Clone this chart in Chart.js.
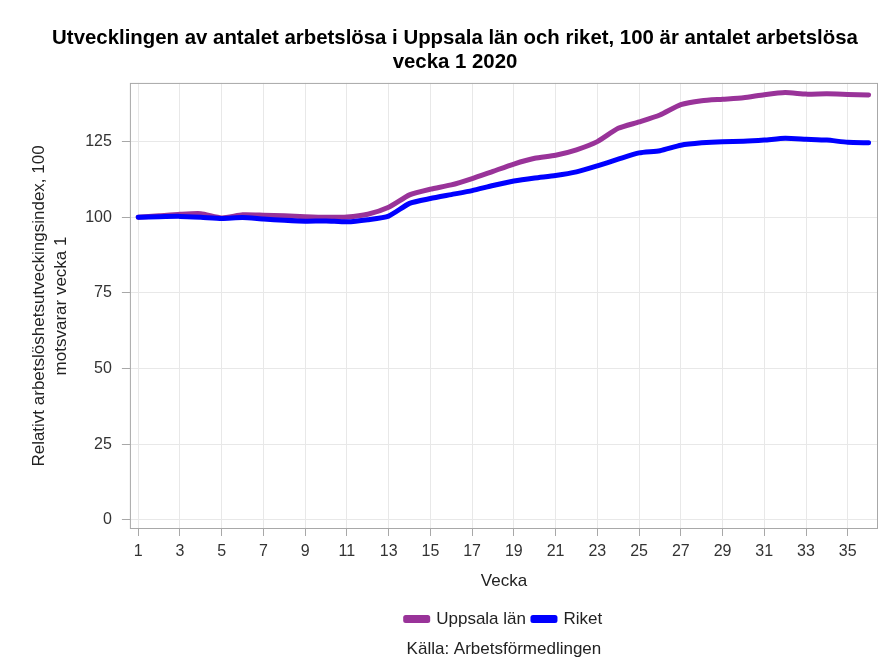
<!DOCTYPE html>
<html>
<head>
<meta charset="utf-8">
<script src="https://cdn.jsdelivr.net/npm/chart.js@4"></script>
<style>
  html, body { margin: 0; padding: 0; background: #fff; }
</style>
</head>
<body>
<canvas id="myChart" width="883" height="666"></canvas>
<script>
const weeks = [1, 2, 3, 4, 5, 6, 7, 8, 9, 10, 11, 12, 13, 14, 15, 16, 17, 18,
    19, 20, 21, 22, 23, 24, 25, 26, 27, 28, 29, 30, 31, 32, 33, 34, 35, 36];
const uppsala = [100, 100.5, 101, 101.2, 99.8, 100.8, 100.7, 100.5, 100.2, 100, 100.1, 101, 103.3, 107.4,
    109.3, 110.7, 112.8, 115.2, 117.6, 119.5, 120.5, 122.3, 125, 129.4, 131.5, 133.8, 137.2, 138.5,
    139, 139.5, 140.5, 141.2, 140.7, 140.8, 140.6, 140.4];
const riket = [100, 100.2, 100.3, 100, 99.6, 99.9, 99.4, 99, 98.7, 98.8, 98.5, 99.2, 100.4, 104.6,
    106.2, 107.5, 108.8, 110.5, 112, 113, 113.8, 115, 117, 119.2, 121.3, 122, 123.8, 124.6,
    125, 125.1, 125.5, 126.1, 125.8, 125.5, 124.8, 124.6];
const xTicks = [1, 3, 5, 7, 9, 11, 13, 15, 17, 19, 21, 23, 25, 27, 29, 31, 33, 35];
const yTicks = [0, 25, 50, 75, 100, 125];

const FONT = 'Liberation Sans, Arial, sans-serif';
Chart.defaults.font.family = FONT;
Chart.defaults.color = '#333';

const toPoints = (vals) => vals.map((v, i) => ({ x: weeks[i], y: v }));

// frame round the plot + centre bottom boxes under the plot area
const plotFrame = {
    id: 'plotFrame',
    afterLayout(chart) {
        chart.boxes.forEach(b => {
            if (b.axis) return;
            if (b.position === 'bottom') {
                b.left = chart.chartArea.left;
                b.right = chart.chartArea.right;
            } else if (b.position === 'top') {
                b.left += 5;
                b.right += 5;
            }
        });
    },
    beforeDatasetsDraw(chart) {
        const a = chart.chartArea;
        const ctx = chart.ctx;
        ctx.save();
        ctx.strokeStyle = '#a8a8a8';
        ctx.lineWidth = 1;
        ctx.strokeRect(a.left + 0.5, a.top + 0.5, a.right - a.left - 1, a.bottom - a.top - 1);
        ctx.restore();
    }
};

const data = {
    datasets: [{
        label: 'Uppsala län',
        data: toPoints(uppsala),
        borderColor: '#993399',
        backgroundColor: '#993399',
        borderWidth: 5,
        pointRadius: 0,
        tension: 0.2,
        borderJoinStyle: 'round',
        borderCapStyle: 'round',
    }, {
        label: 'Riket',
        data: toPoints(riket),
        borderColor: '#0000ff',
        backgroundColor: '#0000ff',
        borderWidth: 5,
        pointRadius: 0,
        tension: 0.2,
        borderJoinStyle: 'round',
        borderCapStyle: 'round',
        order: -1,
    }]
};

const config = {
    type: 'line',
    data: data,
    plugins: [plotFrame],
    options: {
        responsive: false,
        animation: false,
        layout: { padding: { top: 15, left: 22, right: 5, bottom: 6 } },
        plugins: {
            title: {
                display: true,
                text: ['Utvecklingen av antalet arbetslösa i Uppsala län och riket, 100 är antalet arbetslösa',
                    'vecka 1 2020'],
                color: '#000',
                font: { size: 20.4, weight: 'bold', lineHeight: 1.15 },
                padding: { top: 12, bottom: 9 },
            },
            subtitle: {
                display: true,
                position: 'bottom',
                text: 'Källa: Arbetsförmedlingen',
                color: '#222',
                font: { size: 17 },
                padding: { top: 2, bottom: 0 },
            },
            legend: {
                position: 'bottom',
                labels: {
                    boxWidth: 22,
                    boxHeight: 3,
                    color: '#222',
                    font: { size: 17 },
                    padding: 7,
                    sort: (a, b) => a.datasetIndex - b.datasetIndex,
                }
            },
            tooltip: { enabled: false }
        },
        scales: {
            x: {
                type: 'linear',
                min: 0.6,
                max: 36.45,
                afterBuildTicks: (scale) => { scale.ticks = xTicks.map(v => ({ value: v })); },
                ticks: {
                    autoSkip: false,
                    maxRotation: 0,
                    padding: 6,
                    font: { size: 16 },
                    callback: (v) => v,
                },
                grid: { color: '#e8e8e8', tickColor: '#a8a8a8', tickLength: 7 },
                border: { display: false },
                title: {
                    display: true,
                    text: 'Vecka',
                    color: '#222',
                    font: { size: 17 },
                    padding: { top: 4, bottom: 12 },
                }
            },
            y: {
                min: -3,
                max: 144.4,
                afterBuildTicks: (scale) => { scale.ticks = yTicks.map(v => ({ value: v })); },
                ticks: {
                    padding: 10,
                    font: { size: 16 },
                    callback: (v) => v,
                },
                grid: { color: '#e8e8e8', tickColor: '#a8a8a8', tickLength: 8 },
                border: { display: false },
                title: {
                    display: true,
                    text: ['Relativt arbetslöshetsutveckingsindex, 100', 'motsvarar vecka 1'],
                    color: '#222',
                    font: { size: 17, lineHeight: 1.3 },
                    padding: { top: 6, bottom: 3 },
                }
            }
        }
    },
};

const myChart = new Chart(
    document.getElementById('myChart'),
    config
);
</script>
</body>
</html>
